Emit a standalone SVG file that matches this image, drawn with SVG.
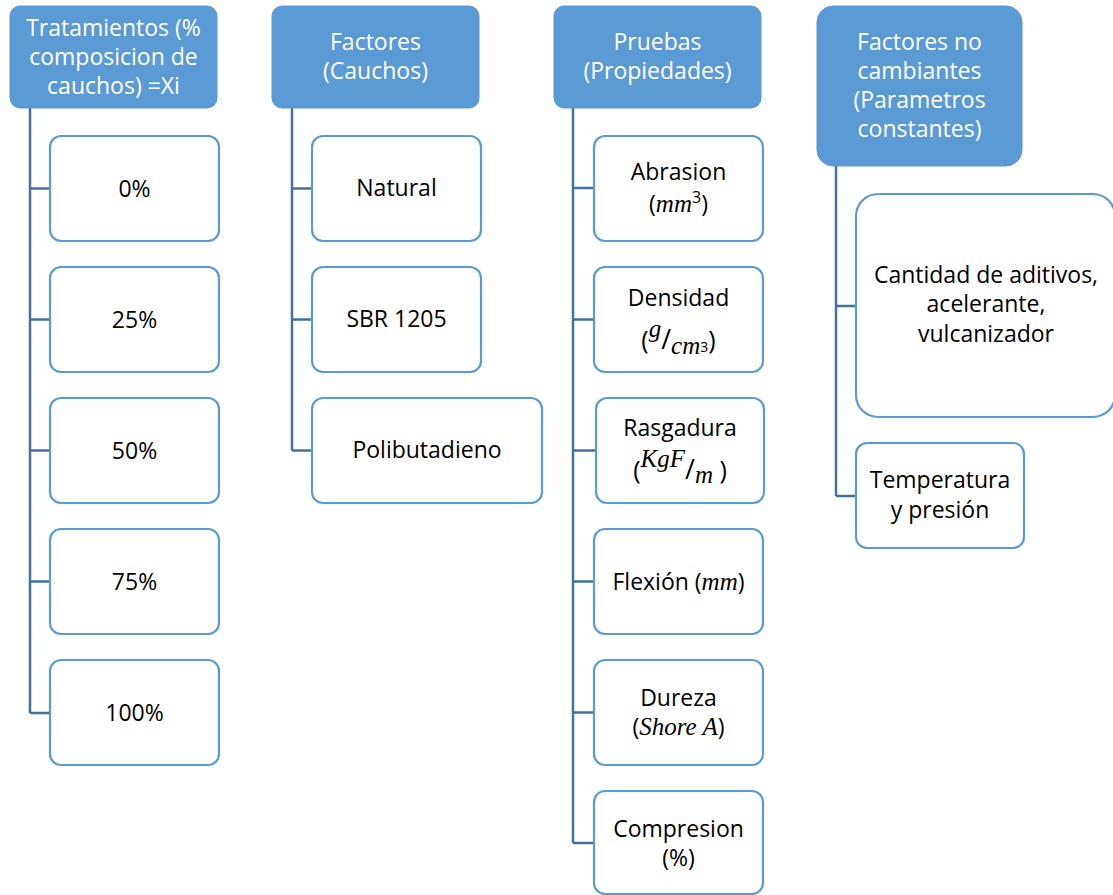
<svg xmlns="http://www.w3.org/2000/svg" width="1113" height="895" viewBox="0 0 1113 895">
<style>
.hdr{fill:#5B9BD5;stroke:#5B9BD5;stroke-width:1}
.box{fill:#FFFFFF;stroke:#5B9BD5;stroke-width:2.2}
.ht{font-family:"Open Sans","Liberation Sans",sans-serif;font-size:23px;fill:#FFFFFF;text-anchor:middle}
.bt{font-family:"Open Sans","Liberation Sans",sans-serif;font-size:23px;fill:#000000;text-anchor:middle}
.m{font-family:"Liberation Serif","DejaVu Serif",serif;font-style:italic;font-size:25px}
.conn{fill:none;stroke:#41719C;stroke-width:2.5}
</style>
<rect width="1113" height="895" fill="#FFFFFF"/>
<g id="connectors">
<path class="conn" d="M30 108 V713 M30 188.5 H50 M30 319.5 H50 M30 450.5 H50 M30 581.5 H50 M30 713 H50"/>
<path class="conn" d="M292 108 V450.5 M292 188.5 H312 M292 319.5 H312 M292 450.5 H312"/>
<path class="conn" d="M573 108 V843 M573 188 H594 M573 319.5 H594 M573 450.5 H596 M573 581.5 H594 M573 712.5 H594 M573 843 H594"/>
<path class="conn" d="M836 166 V496 M836 306 H856 M836 496 H856"/>
</g>
<g id="h1"><rect class="hdr" x="10" y="6" width="207" height="102" rx="10"/>
<text class="ht" x="113.5" y="36">Tratamientos (%</text><text class="ht" x="113.5" y="65">composicion de</text><text class="ht" x="113.5" y="94">cauchos) =Xi</text></g>
<g id="h2"><rect class="hdr" x="272" y="6" width="207" height="102" rx="10"/>
<text class="ht" x="375.5" y="50">Factores</text><text class="ht" x="375.5" y="79">(Cauchos)</text></g>
<g id="h3"><rect class="hdr" x="554" y="6" width="207" height="102" rx="10"/>
<text class="ht" x="657.5" y="50">Pruebas</text><text class="ht" x="657.5" y="79">(Propiedades)</text></g>
<g id="h4"><rect class="hdr" x="817" y="6" width="205" height="160" rx="16"/>
<text class="ht" x="919.5" y="50">Factores no</text><text class="ht" x="919.5" y="79">cambiantes</text><text class="ht" x="919.5" y="108">(Parametros</text><text class="ht" x="919.5" y="137">constantes)</text></g>
<g id="n0"><rect class="box" x="50" y="136" width="169" height="105" rx="11"/><text class="bt" x="134.5" y="197">0%</text></g>
<g id="n25"><rect class="box" x="50" y="267" width="169" height="105" rx="11"/><text class="bt" x="134.5" y="328">25%</text></g>
<g id="n50"><rect class="box" x="50" y="398" width="169" height="105" rx="11"/><text class="bt" x="134.5" y="459">50%</text></g>
<g id="n75"><rect class="box" x="50" y="529" width="169" height="105" rx="11"/><text class="bt" x="134.5" y="590">75%</text></g>
<g id="n100"><rect class="box" x="50" y="660" width="169" height="105" rx="11"/><text class="bt" x="134.5" y="721">100%</text></g>
<g id="natural"><rect class="box" x="312" y="136" width="169" height="105" rx="11"/><text class="bt" x="396.5" y="196">Natural</text></g>
<g id="sbr"><rect class="box" x="312" y="267" width="169" height="105" rx="11"/><text class="bt" x="396.5" y="327">SBR 1205</text></g>
<g id="poli"><rect class="box" x="312" y="398" width="230" height="105" rx="11"/><text class="bt" x="427" y="458">Polibutadieno</text></g>
<g id="abrasion"><rect class="box" x="594" y="136" width="169" height="105" rx="11"/>
<text class="bt" x="678.5" y="180">Abrasion</text>
<text class="bt" x="678.5" y="212">(<tspan class="m">mm</tspan><tspan font-size="16" dy="-9">3</tspan><tspan dy="9">)</tspan></text></g>
<g id="densidad"><rect class="box" x="594" y="267" width="169" height="105" rx="11"/>
<text class="bt" x="678.5" y="306">Densidad</text>
<text class="bt" x="678.5" y="349"><tspan font-size="25">(</tspan><tspan class="m" font-size="18" dy="-12">g</tspan><tspan font-size="27" dy="12">/</tspan><tspan class="m" font-size="18" dy="5">cm</tspan><tspan font-size="14" dy="-2">3</tspan><tspan font-size="25" dy="-3">)</tspan></text></g>
<g id="rasgadura"><rect class="box" x="596" y="398" width="168" height="105" rx="11"/>
<text class="bt" x="680" y="436">Rasgadura</text>
<text class="bt" x="680" y="479"><tspan font-size="25">(</tspan><tspan class="m" font-size="17" dy="-12">KgF</tspan><tspan font-size="27" dy="12">/</tspan><tspan class="m" font-size="20" dy="4">m</tspan><tspan font-size="25" dy="-4"> )</tspan></text></g>
<g id="flexion"><rect class="box" x="594" y="529" width="169" height="105" rx="11"/>
<text class="bt" x="678.5" y="590">Flexión (<tspan class="m">mm</tspan>)</text></g>
<g id="dureza"><rect class="box" x="594" y="660" width="169" height="105" rx="11"/>
<text class="bt" x="678.5" y="706">Dureza</text>
<text class="bt" x="678.5" y="735">(<tspan class="m">Shore A</tspan>)</text></g>
<g id="compresion"><rect class="box" x="594" y="791" width="169" height="103" rx="11"/>
<text class="bt" x="678.5" y="837">Compresion</text><text class="bt" x="678.5" y="866">(%)</text></g>
<g id="cantidad"><rect class="box" x="856" y="194" width="259" height="223" rx="22"/>
<text class="bt" x="986" y="283">Cantidad de aditivos,</text><text class="bt" x="986" y="312">acelerante,</text><text class="bt" x="986" y="342">vulcanizador</text></g>
<g id="temperatura"><rect class="box" x="856" y="443" width="168" height="105" rx="11"/>
<text class="bt" x="940" y="488">Temperatura</text><text class="bt" x="940" y="518">y presión</text></g>
</svg>
